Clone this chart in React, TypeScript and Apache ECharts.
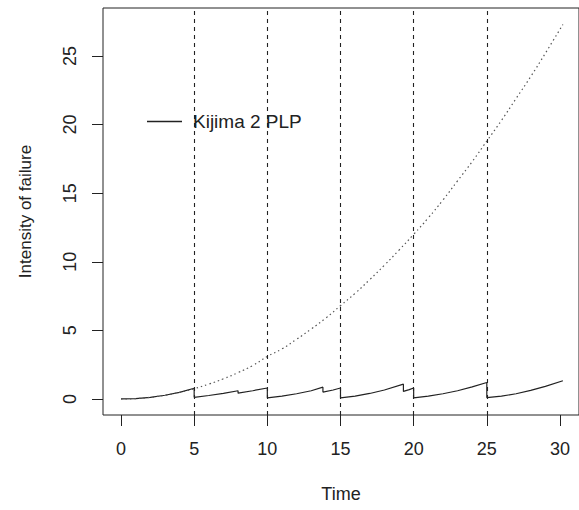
import React, { useEffect, useRef } from "react";
import * as echarts from "echarts";

const xTicks = [0, 5, 10, 15, 20, 25, 30];
const yTicks = [0, 5, 10, 15, 20, 25];
const failureTimes = [5, 10, 15, 20, 25];

const kijimaTime = [0, 1, 2, 3, 4, 5, 5, 6, 7, 8, 8, 9, 10, 10, 11, 12, 13, 13.8, 13.8, 14.5, 15, 15, 16, 17, 18, 19.3, 19.3, 19.7, 20, 20, 21, 22, 23, 24, 25, 25, 26, 27, 28, 29, 30.2];
const kijimaValue = [0, 0.03, 0.12, 0.27, 0.48, 0.78, 0.12, 0.25, 0.4, 0.6, 0.42, 0.6, 0.8, 0.08, 0.2, 0.38, 0.6, 0.86, 0.5, 0.65, 0.8, 0.08, 0.2, 0.4, 0.65, 1.08, 0.55, 0.68, 0.8, 0.08, 0.2, 0.38, 0.6, 0.88, 1.2, 0.1, 0.2, 0.38, 0.62, 0.92, 1.33];

const plpTime = [0, 1, 2, 3, 4, 5, 6, 7, 8, 9, 10, 11, 12, 13, 14, 15, 16, 17, 18, 19, 20, 21, 22, 23, 24, 25, 26, 27, 28, 29, 30.2];
const plpValue = [0, 0.03, 0.12, 0.27, 0.48, 0.75, 1.08, 1.47, 1.92, 2.43, 3.1, 3.65, 4.35, 5.1, 5.9, 6.8, 7.7, 8.7, 9.75, 10.85, 12.0, 13.2, 14.5, 15.9, 17.3, 18.8, 20.3, 21.9, 23.5, 25.2, 27.3];

export default function App() {
  const ref = useRef<HTMLDivElement>(null);
  useEffect(() => {
    const chart = echarts.init(ref.current!, null, { renderer: "svg" });
    const font = "'Liberation Sans', Arial, sans-serif";
    const ink = "#222";
    chart.setOption({
      animation: false,
      grid: { left: 103, right: -2, top: 8, bottom: 95, show: true, borderColor: ink, borderWidth: 1, backgroundColor: "transparent" },
      legend: {
        data: ["Kijima 2 PLP"],
        left: 142,
        top: 107,
        icon: "rect",
        itemWidth: 35,
        itemHeight: 1.5,
        itemStyle: { color: ink },
        textStyle: { fontSize: 19, color: ink, fontFamily: font, padding: [0, 0, 0, 6] },
      },
      xAxis: {
        type: "value",
        min: -1.23,
        max: 31.3,
        name: "Time",
        nameLocation: "middle",
        nameGap: 70,
        nameTextStyle: { fontSize: 18, color: ink, fontFamily: font },
        axisLine: { show: false, onZero: false },
        axisTick: { show: true, customValues: xTicks, length: 11, inside: false, lineStyle: { color: ink } },
        axisLabel: { customValues: xTicks, margin: 25, fontSize: 18, color: ink, fontFamily: font },
        splitLine: { show: false },
      },
      yAxis: {
        type: "value",
        min: -1.17,
        max: 28.5,
        name: "Intensity of failure",
        nameLocation: "middle",
        nameRotate: 90,
        nameGap: 69,
        nameTextStyle: { fontSize: 17, color: ink, fontFamily: font },
        axisLine: { show: false, onZero: false },
        axisTick: { show: true, customValues: yTicks, length: 11, inside: false, lineStyle: { color: ink } },
        axisLabel: { customValues: yTicks, rotate: 90, margin: 24, fontSize: 18, color: ink, fontFamily: font },
        splitLine: { show: false },
      },
      series: [
        {
          name: "Kijima 2 PLP",
          type: "line",
          data: kijimaTime.map((t, i) => [t, kijimaValue[i]]),
          showSymbol: false,
          color: ink,
          lineStyle: { color: ink, width: 1.2 },
          markLine: {
            silent: true,
            symbol: "none",
            label: { show: false },
            lineStyle: { color: ink, type: [4, 4], width: 1.1 },
            data: failureTimes.map((t) => ({ xAxis: t })),
          },
        },
        {
          name: "PLP",
          type: "line",
          data: plpTime.map((t, i) => [t, plpValue[i]]),
          showSymbol: false,
          smooth: true,
          color: "#555",
          lineStyle: { color: "#555", width: 1.2, type: [1.5, 3] },
        },
      ],
    });
    return () => chart.dispose();
  }, []);
  return <div ref={ref} style={{ position: "absolute", left: 0, top: 0, width: 579, height: 510 }} />;
}
